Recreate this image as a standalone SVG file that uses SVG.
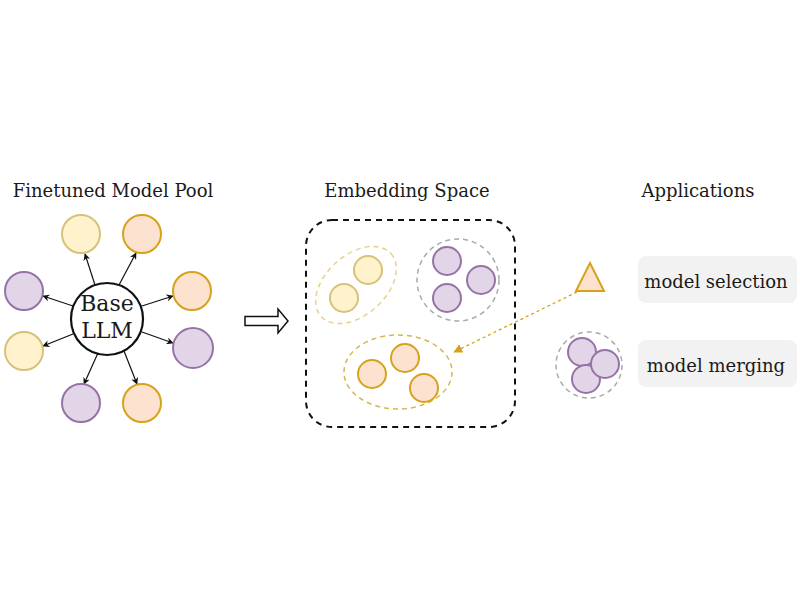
<svg xmlns="http://www.w3.org/2000/svg" width="800" height="600" viewBox="0 0 800 600">
<defs>
<style>
text{font-family:"DejaVu Serif","Liberation Serif",serif;fill:#1a1a1a}
.title{font-size:18px;text-anchor:middle}
.yel{fill:#fff2cc;stroke:#d6c27a;stroke-width:2}
.org{fill:#fde3cf;stroke:#d6a21a;stroke-width:2}
.pur{fill:#e1d5e7;stroke:#9673a6;stroke-width:2}
.edge{stroke:#111;stroke-width:1.2;fill:none;marker-end:url(#ah)}
.lbl{font-size:18px;text-anchor:middle}
.box{fill:#f2f2f2}
</style>
<marker id="ah" viewBox="0 0 10 10" refX="9" refY="5" markerWidth="7" markerHeight="7" orient="auto" markerUnits="userSpaceOnUse">
<path d="M0,0 L10,5 L0,10 L3,5 z" fill="#111"/>
</marker>
<marker id="ahg" viewBox="0 0 10 10" refX="9" refY="5" markerWidth="9" markerHeight="9" orient="auto" markerUnits="userSpaceOnUse">
<path d="M0,0 L10,5 L0,10 z" fill="#d6a21a"/>
</marker>
</defs>
<rect width="800" height="600" fill="#fff"/>

<text class="title" x="113" y="197">Finetuned Model Pool</text>
<text class="title" x="407" y="197">Embedding Space</text>
<text class="title" x="698" y="197">Applications</text>

<g id="connectors">
<line class="edge" x1="95" y1="285" x2="85" y2="254"/>
<line class="edge" x1="119" y1="285" x2="136" y2="253"/>
<line class="edge" x1="142" y1="306" x2="173" y2="296"/>
<line class="edge" x1="142" y1="332" x2="173" y2="343"/>
<line class="edge" x1="124" y1="351" x2="137" y2="384"/>
<line class="edge" x1="98" y1="353" x2="84" y2="384"/>
<line class="edge" x1="73" y1="334" x2="43" y2="346"/>
<line class="edge" x1="73" y1="306" x2="43" y2="296"/>
<path d="M577,292 L454,352" stroke="#d6a21a" stroke-width="1.3" stroke-dasharray="3,3" fill="none" marker-end="url(#ahg)"/>
<path d="M245,316.5 H278 V309 L288,321 L278,333 V325.5 H245 Z" fill="#fff" stroke="#111" stroke-width="1.5" stroke-linejoin="miter"/>
</g>

<g id="base">
<circle cx="107" cy="319" r="36" fill="#fff" stroke="#111" stroke-width="2.2"/>
<text x="107" y="311" font-size="22" text-anchor="middle">Base</text>
<text x="107" y="338" font-size="22" text-anchor="middle">LLM</text>
</g>
<g id="pool">
<circle id="m1" class="yel" cx="81" cy="234" r="19"/>
<circle id="m2" class="org" cx="142" cy="234" r="19"/>
<circle id="m3" class="org" cx="192" cy="291" r="19"/>
<circle id="m4" class="pur" cx="193" cy="348" r="20"/>
<circle id="m5" class="org" cx="142" cy="403" r="19"/>
<circle id="m6" class="pur" cx="81" cy="403" r="19"/>
<circle id="m7" class="yel" cx="24" cy="351" r="19"/>
<circle id="m8" class="pur" cx="24" cy="291" r="19"/>
</g>

<g id="embedding">
<rect x="306" y="220" width="209" height="207" rx="26" fill="none" stroke="#111" stroke-width="2" stroke-dasharray="6,5"/>
<g id="cluster-yellow">
<ellipse cx="356" cy="285" rx="47" ry="30" transform="rotate(-42 356 285)" fill="none" stroke="#e6d28c" stroke-width="1.5" stroke-dasharray="5,4"/>
<circle class="yel" cx="368" cy="270" r="14"/>
<circle class="yel" cx="344" cy="298" r="14"/>
</g>
<g id="cluster-purple">
<ellipse cx="458" cy="280" rx="41" ry="41" fill="none" stroke="#aaa" stroke-width="1.5" stroke-dasharray="5,4"/>
<circle class="pur" cx="447" cy="261" r="14"/>
<circle class="pur" cx="481" cy="280" r="14"/>
<circle class="pur" cx="447" cy="298" r="14"/>
</g>
<g id="cluster-orange">
<ellipse cx="398" cy="372" rx="54" ry="37" fill="none" stroke="#d6b656" stroke-width="1.5" stroke-dasharray="5,4"/>
<circle class="org" cx="405" cy="358" r="14"/>
<circle class="org" cx="372" cy="374" r="14"/>
<circle class="org" cx="424" cy="388" r="14"/>
</g>
</g>

<g id="selection">
<polygon points="590,263 576,291 604,291" fill="#fde3cf" stroke="#d6a21a" stroke-width="2" stroke-linejoin="miter"/>
<rect class="box" x="638" y="256" width="159" height="47" rx="8"/>
<text class="lbl" x="716" y="288">model selection</text>
</g>
<g id="merging">
<circle cx="589" cy="365" r="33" fill="none" stroke="#aaa" stroke-width="1.5" stroke-dasharray="5,4"/>
<circle class="pur" cx="582" cy="352" r="14"/>
<circle class="pur" cx="586" cy="379" r="14"/>
<circle class="pur" cx="605" cy="364" r="14"/>
<rect class="box" x="638" y="340" width="159" height="47" rx="8"/>
<text class="lbl" x="716" y="372">model merging</text>
</g>
</svg>
